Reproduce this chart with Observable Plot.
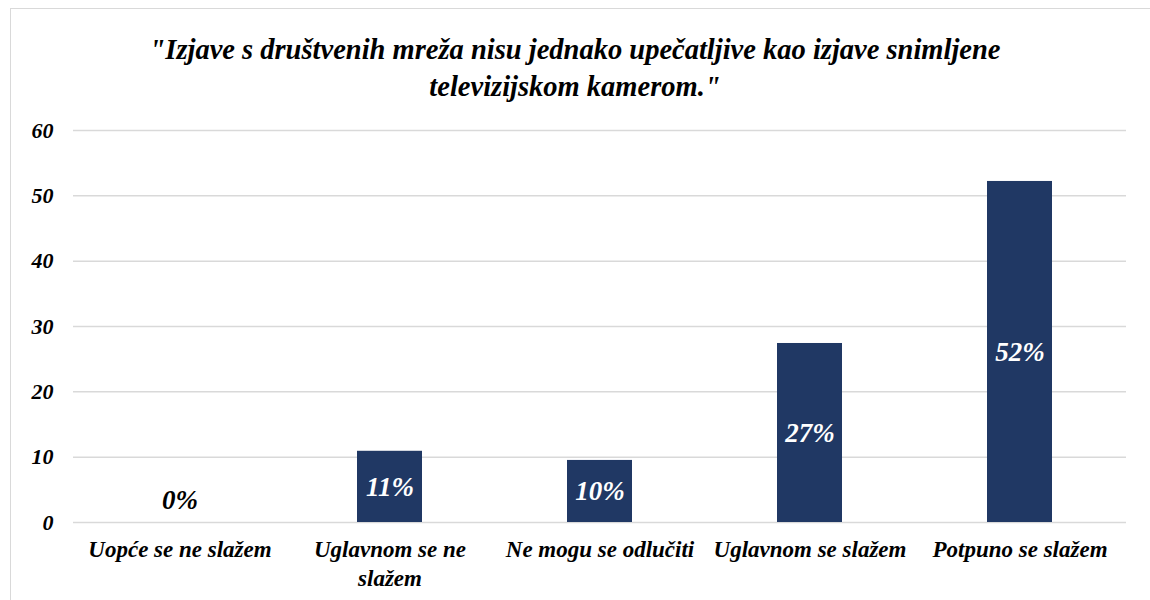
<!DOCTYPE html>
<html>
<head>
<meta charset="utf-8">
<script src="https://cdn.jsdelivr.net/npm/d3@7"></script>
<script src="https://cdn.jsdelivr.net/npm/@observablehq/plot@0.6"></script>
<style>
  html, body { margin: 0; padding: 0; background: #fff; }
  #frame { position: absolute; left: 10px; top: 8px; width: 1160px; height: 620px; border: 1.5px solid #d9d9d9; box-sizing: border-box; }
  #title { position: absolute; left: 0; top: 31px; width: 1150px; text-align: center;
           font-family: "Liberation Serif", "Times New Roman", serif; font-weight: bold; font-style: italic;
           font-size: 28.5px; line-height: 37px; color: #000; }
  #chart { position: absolute; left: 0; top: 110px; }
</style>
</head>
<body>
<div id="frame"></div>
<div id="title">"Izjave s društvenih mreža nisu jednako upečatljive kao izjave snimljene<br>televizijskom kamerom."</div>
<div id="chart"></div>
<script>
const categories = ["Uopće se ne slažem", "Uglavnom se ne slažem", "Ne mogu se odlučiti", "Uglavnom se slažem", "Potpuno se slažem"];
const tickLabels = ["Uopće se ne slažem", "Uglavnom se ne\nslažem", "Ne mogu se odlučiti", "Uglavnom se slažem", "Potpuno se slažem"];
const values = [0, 10.9, 9.5, 27.4, 52.2];
const valueLabels = ["0%", "11%", "10%", "27%", "52%"];
const yTicks = [0, 10, 20, 30, 40, 50, 60];

const data = categories.map((c, i) => ({cat: c, v: values[i], label: valueLabels[i]}));
const tickMap = new Map(categories.map((c, i) => [c, tickLabels[i]]));

const font = "Liberation Serif, Times New Roman, serif";

const chart = Plot.plot({
  width: 1150,
  height: 490,
  marginLeft: 73,
  marginRight: 24,
  marginTop: 20,
  marginBottom: 78,
  style: {fontFamily: font, fontWeight: "bold", fontStyle: "italic", background: "transparent", overflow: "visible"},
  x: {domain: categories, paddingInner: 0.69, paddingOuter: 0.345, label: null},
  y: {domain: [0, 60], label: null},
  marks: [
    Plot.gridY(yTicks, {stroke: "#d9d9d9", strokeOpacity: 1, strokeWidth: 1.5}),
    Plot.barY(data, {x: "cat", y: "v", fill: "#203864"}),
    Plot.text(data.filter(d => d.v > 0), {x: "cat", y: d => d.v / 2, text: "label", fill: "white", fontSize: 27, fontWeight: "bold", fontStyle: "italic"}),
    Plot.text(data.filter(d => d.v === 0), {x: "cat", y: 0, dy: -22, text: "label", fill: "black", fontSize: 27, fontWeight: "bold", fontStyle: "italic"}),
    Plot.axisY({ticks: yTicks, tickSize: 0, tickPadding: 20, fontSize: 22, label: null}),
    Plot.axisX({tickSize: 0, tickPadding: 14, fontSize: 23, tickFormat: c => tickMap.get(c), lineHeight: 1.25, label: null})
  ]
});
document.getElementById("chart").appendChild(chart);
</script>
</body>
</html>
